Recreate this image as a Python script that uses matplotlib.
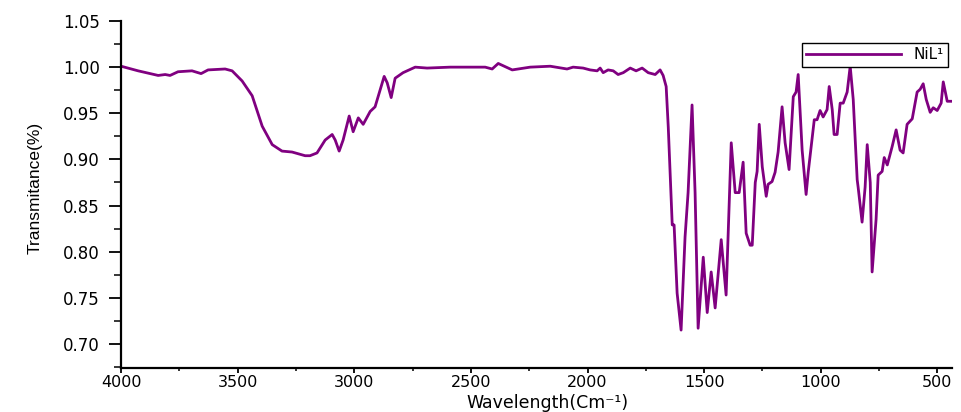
import matplotlib
matplotlib.use('Agg')
from matplotlib import pyplot as plt
from matplotlib.ticker import MultipleLocator

# FTIR spectrum of NiL1
wavenumber = [4000, 3927, 3841, 3811, 3790, 3756, 3696, 3657, 3627, 3554, 3524, 3481,
              3438, 3395, 3352, 3310, 3267, 3211, 3190, 3160, 3125, 3095, 3082, 3065,
              3048, 3022, 3005, 2983, 2962, 2932, 2911, 2872, 2859, 2842, 2825, 2791,
              2739, 2688, 2589, 2491, 2439, 2409, 2383, 2323, 2246, 2160, 2088, 2062,
              2019, 1989, 1959, 1946, 1933, 1912, 1890, 1869, 1847, 1817, 1792, 1766,
              1740, 1710, 1689, 1676, 1663, 1654, 1637, 1629, 1616, 1599, 1582, 1569,
              1552, 1539, 1526, 1504, 1487, 1470, 1453, 1427, 1406, 1384, 1367, 1350,
              1333, 1320, 1303, 1294, 1281, 1273, 1264, 1251, 1234, 1226, 1209, 1196,
              1183, 1166, 1153, 1136, 1118, 1106, 1097, 1080, 1063, 1054, 1041, 1028,
              1016, 1003, 990, 973, 964, 951, 943, 930, 917, 904, 887, 874,
              861, 844, 840, 823, 810, 801, 788, 780, 763, 754, 737, 728,
              715, 694, 677, 660, 647, 630, 608, 587, 574, 561, 548, 531,
              518, 501, 484, 475, 458, 437]
transmit = [1.001, 0.996, 0.991, 0.992, 0.991, 0.995, 0.996, 0.993, 0.997, 0.998, 0.996, 0.985,
            0.969, 0.936, 0.916, 0.909, 0.908, 0.904, 0.904, 0.907, 0.921, 0.927, 0.921, 0.909,
            0.921, 0.947, 0.930, 0.945, 0.938, 0.952, 0.957, 0.990, 0.983, 0.967, 0.988, 0.994,
            1.000, 0.999, 1.000, 1.000, 1.000, 0.998, 1.004, 0.997, 1.000, 1.001, 0.998, 1.000,
            0.999, 0.997, 0.996, 0.999, 0.994, 0.997, 0.996, 0.992, 0.994, 0.999, 0.996, 0.999,
            0.994, 0.992, 0.997, 0.991, 0.979, 0.935, 0.829, 0.829, 0.755, 0.715, 0.816, 0.864,
            0.959, 0.864, 0.717, 0.794, 0.734, 0.778, 0.739, 0.813, 0.753, 0.918, 0.864, 0.864,
            0.897, 0.820, 0.807, 0.807, 0.875, 0.887, 0.938, 0.892, 0.860, 0.873, 0.876, 0.886,
            0.908, 0.957, 0.918, 0.889, 0.968, 0.973, 0.992, 0.910, 0.862, 0.886, 0.914, 0.943,
            0.943, 0.953, 0.946, 0.954, 0.979, 0.954, 0.927, 0.927, 0.961, 0.961, 0.973, 1.001,
            0.965, 0.878, 0.870, 0.832, 0.870, 0.916, 0.875, 0.778, 0.835, 0.883, 0.887, 0.902,
            0.894, 0.914, 0.932, 0.910, 0.907, 0.938, 0.944, 0.973, 0.976, 0.982, 0.965, 0.951,
            0.956, 0.953, 0.961, 0.984, 0.963, 0.963]

xticks = [4000, 3500, 3000, 2500, 2000, 1500, 1000, 500]
yticks = [0.70, 0.75, 0.80, 0.85, 0.90, 0.95, 1.00, 1.05]

fig = plt.figure(figsize=(9.61, 4.12), dpi=100)
ax = fig.add_axes([0.126, 0.107, 0.865, 0.842])

ax.plot(wavenumber, transmit, color='#800080', lw=2.0, label='NiL¹')

ax.set_xlim(4000, 436)
ax.set_ylim(0.674, 1.05)
ax.set_xticks(xticks)
ax.set_xticklabels([str(v) for v in xticks])
ax.set_yticks(yticks)
ax.set_yticklabels(['%.2f' % v for v in yticks])
ax.xaxis.set_minor_locator(MultipleLocator(250))
ax.yaxis.set_minor_locator(MultipleLocator(0.025))

for s in ['top', 'right']:
    ax.spines[s].set_visible(False)
for s in ['left', 'bottom']:
    ax.spines[s].set_linewidth(1.6)

ax.tick_params(axis='y', which='major', direction='out', length=8.5, width=1.3, pad=7, labelsize=12)
ax.tick_params(axis='y', which='minor', direction='out', length=5, width=1.1)
ax.tick_params(axis='x', which='major', direction='out', length=3.5, width=1.3, pad=1.5, labelsize=11.5)
ax.tick_params(axis='x', which='minor', direction='out', length=2.5, width=1.1)

ax.set_xlabel('Wavelength(Cm⁻¹)', fontsize=12.5)
ax.xaxis.set_label_coords(0.513, -0.076)
ax.set_ylabel('Transmitance(%)', fontsize=12.5, family=['Liberation Sans', 'DejaVu Sans'])
ax.yaxis.set_label_coords(-0.094, 0.52)

leg = ax.legend(loc='upper right', bbox_to_anchor=(0.995, 0.937), borderaxespad=0,
                fontsize=11, handlelength=6.2, borderpad=0.3, fancybox=False, framealpha=1)
leg.get_frame().set_edgecolor('black')
leg.get_frame().set_linewidth(1.0)

fig.savefig('out.png', dpi=100)
